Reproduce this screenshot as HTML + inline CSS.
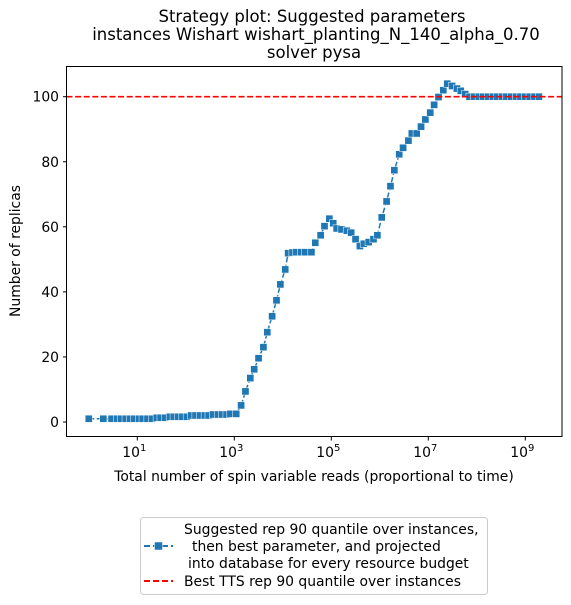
<!DOCTYPE html>
<html><head><meta charset="utf-8"><style>
body{margin:0;background:#fff;}
svg{display:block;font-family:"DejaVu Sans","Liberation Sans",sans-serif;}
</style></head><body>
<svg id="chart" width="571" height="605" viewBox="0 0 571 605" xmlns="http://www.w3.org/2000/svg">
<g font-size="16.5" text-anchor="middle" fill="#000">
<text x="312" y="22">Strategy plot: Suggested parameters</text>
<text x="316" y="40">instances Wishart wishart_planting_N_140_alpha_0.70</text>
<text x="314" y="58">solver pysa</text>
</g>
<g id="marks"></g>
<rect x="66.5" y="66.5" width="495.5" height="370" fill="none" stroke="#000" stroke-width="1"/>
<g id="axes" font-size="13.9" fill="#000"></g>
<text x="314" y="481" font-size="13.9" text-anchor="middle">Total number of spin variable reads (proportional to time)</text>
<text transform="translate(20,251) rotate(-90)" font-size="13.9" text-anchor="middle">Number of replicas</text>
<g>
<rect x="140.5" y="517.5" width="347" height="77" rx="3" fill="#fff" stroke="#ccc"/>
<g>
<line x1="144" y1="546" x2="173" y2="546" stroke="#1f77b4" stroke-width="2" stroke-dasharray="6,3"/>
<rect x="154.5" y="542" width="8" height="8" fill="#1f77b4" stroke="#fff" stroke-width="0.5"/>
<text x="184" y="534" font-size="13.9">Suggested rep 90 quantile over instances,</text>
<text x="192" y="551" font-size="13.9">then best parameter, and projected</text>
<text x="188" y="568" font-size="13.9">into database for every resource budget</text>
</g>
<g>
<line x1="144" y1="581" x2="173" y2="581" stroke="#ff0000" stroke-width="2" stroke-dasharray="6,3"/>
<text x="184" y="586" font-size="13.9">Best TTS rep 90 quantile over instances</text>
</g>
</g>
</svg>
<script>
const xExp=[0,0.30,0.47,0.58,0.66,0.76,0.85,0.94,1.04,1.11,1.21,1.31,1.40,1.48,1.57,1.67,1.75,1.84,1.93,2.02,2.11,2.20,2.29,2.39,2.47,2.56,2.66,2.75,2.84,2.92,3.04,
3.14,3.23,3.33,3.41,3.50,3.60,3.68,3.78,3.87,3.95,4.05,4.11,4.20,4.28,4.38,4.46,4.59,4.67,4.78,4.86,4.96,5.04,5.11,5.21,5.32,5.41,5.50,5.59,5.67,5.77,5.87,5.95,
6.04,6.14,6.22,6.30,6.40,6.48,6.59,6.66,6.76,6.85,6.94,7.04,7.12,7.21,7.31,7.39,7.49,7.59,7.67,7.76,7.85,7.94,8.04,8.13,8.23,8.33,8.42,8.52,8.61,8.71,8.81,8.90,9.00,9.09,9.19,9.28];
const replicas=[1,1,1,1,1,1,1,1,1,1,1,1,1.3,1.3,1.3,1.6,1.6,1.6,1.6,1.6,2.0,2.0,2.0,2.0,2.0,2.3,2.3,2.3,2.3,2.5,2.5,
5.1,9.4,13.5,16.2,19.6,23,27.6,32.5,37.4,42.3,46.9,51.9,52.1,52.2,52.2,52.2,52.2,55.1,57.4,60.2,62.5,61.1,59.5,59.2,58.8,58.2,56.2,54.1,54.8,55.3,56.2,57.4,
62.9,67.8,72.5,77.4,82.3,84.3,86.5,88.7,88.7,90.8,93,95.1,97.5,99.9,102,104,103.3,102.5,101.8,100.8,100,100,100,100,100,100,100,100,100,100,100,100,100,100,100,100];
const bestTTS=100;
const xTickExp=[1,3,5,7,9];
const yTicks=[0,20,40,60,80,100];
const NS="http://www.w3.org/2000/svg";
function sx(e){return 88.8+e*48.5;}
function sy(v){return 422-v*3.253;}
const axes=document.getElementById('axes'), marks=document.getElementById('marks');
function mk(t,a,p){const el=document.createElementNS(NS,t);for(const k in a)el.setAttribute(k,a[k]);p.appendChild(el);return el;}
xTickExp.forEach(e=>{
 const x=sx(e);
 const t=mk('line',{x1:x,y1:437,x2:x,y2:440.5,stroke:'#000'},axes);
 
 
 const tx=mk('text',{x:x-3,y:457,'text-anchor':'middle'},axes);
 
 
 tx.textContent='10';
 const sp=mk('tspan',{dy:-6,'font-size':10},tx);sp.textContent=String(e);
});
yTicks.forEach(v=>{
 const y=sy(v);
 const t=mk('line',{x1:63,y1:y,x2:66.5,y2:y,stroke:'#000'},axes);
 
 
 const tx=mk('text',{x:59,y:y+5,'text-anchor':'end'},axes);
 
 
 tx.textContent=String(v);
});
const pts=xExp.map((e,i)=>sx(e).toFixed(1)+','+sy(replicas[i]).toFixed(1)).join(' ');
const pl=mk('polyline',{points:pts,fill:'none',stroke:'#1f77b4','stroke-width':1.5,'stroke-dasharray':'5.5,2.4'},marks);


xExp.forEach((e,i)=>{
 const r=mk('rect',{x:sx(e)-3.6,y:sy(replicas[i])-3.6,width:7.2,height:7.2,fill:'#1f77b4',stroke:'#fff','stroke-width':0.5},marks);
 
 
});
const bl=mk('line',{x1:66.5,x2:562,y1:sy(bestTTS),y2:sy(bestTTS),stroke:'#ff0000','stroke-width':1.6,'stroke-dasharray':'6,2.6'},marks);


</script>
</body></html>
